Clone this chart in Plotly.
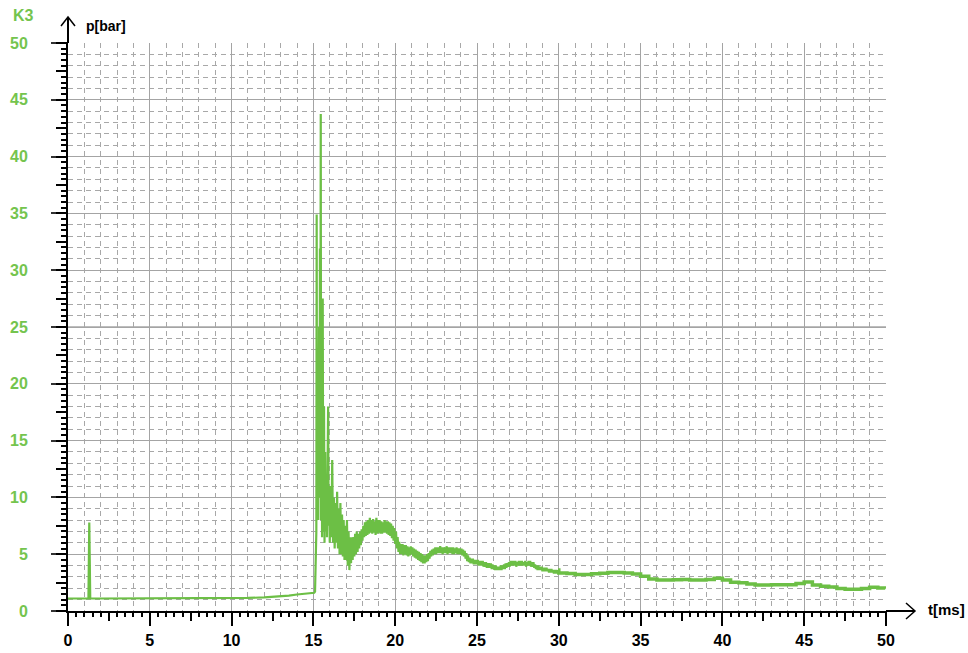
import plotly.graph_objects as go

# ---- data (time in ms, pressure in bar) ----
# quiet phase and first impulse peaks, point by point
t_start = [0, 0.5, 1.0, 1.25, 1.3, 1.32, 1.36, 2, 4, 6, 8, 10, 10.5, 11, 12, 12.8, 13.5, 14, 14.5, 14.9,
           15.05, 15.1, 15.15, 15.18, 15.2, 15.22, 15.26, 15.3, 15.35, 15.38, 15.4, 15.42, 15.45, 15.47,
           15.5, 15.53, 15.57, 15.6, 15.65, 15.68, 15.72, 15.75, 15.8, 15.83, 15.9, 15.93, 15.97]
p_start = [1.1, 1.1, 1.1, 1.1, 7.8, 1.8, 1.1, 1.1, 1.1, 1.1, 1.1, 1.1, 1.12, 1.15, 1.2, 1.25, 1.35, 1.45, 1.5, 1.55,
           1.6, 1.7, 5.6, 7.0, 34.9, 9.0, 20.0, 8.0, 25.0, 12.0, 31.9, 10.0, 43.75, 8.0,
           22.0, 6.5, 27.5, 7.0, 18.0, 6.0, 14.0, 7.0, 12.0, 6.5, 18.0, 7.5, 10.0]

# noisy phase 16.0 - 29.9 ms, read as min / max of the trace every 0.1 ms
t_band = [round(16.0 + 0.1 * i, 2) for i in range(140)]
p_band_lo = [6.0, 6.5, 6.0, 5.5, 6.0, 5.5, 5.0, 5.0, 4.8, 4.5, 4.5, 4.0, 3.6, 4.2, 4.5, 4.8, 5.0, 5.2, 5.5, 5.8,
             6.2, 6.5, 6.6, 6.7, 6.8, 6.9, 6.8, 6.9, 6.7, 6.8, 6.9, 6.8, 6.8, 6.9, 6.9, 6.8, 6.7, 6.6, 6.4, 6.2,
             5.9, 5.5, 5.2, 5.0, 5.0, 4.9, 5.0, 4.9, 4.8, 4.9, 5.0, 4.8, 4.7, 4.6, 4.5, 4.4, 4.3, 4.2, 4.2, 4.3,
             4.4, 4.6, 4.8, 4.9, 5.0, 5.0, 5.1, 5.1, 5.1, 5.0, 5.1, 5.1, 5.0, 5.1, 5.1, 5.0, 5.0, 5.1, 5.0, 5.0,
             5.0, 4.9, 4.8, 4.6, 4.4, 4.3, 4.2, 4.2, 4.1, 4.1, 4.1, 4.0, 4.0, 4.0, 3.9, 3.9, 3.8, 3.8, 3.8, 3.7,
             3.7, 3.6, 3.6, 3.6, 3.6, 3.6, 3.7, 3.7, 3.8, 3.9, 3.9, 4.0, 4.0, 4.0, 3.9, 4.0, 4.0, 4.0, 4.0, 4.0,
             3.9, 4.0, 4.0, 3.9, 3.9, 3.8, 3.7, 3.6, 3.6, 3.6, 3.5, 3.5, 3.5, 3.5, 3.4, 3.4, 3.4, 3.3, 3.3, 3.3]
p_band_hi = [11.0, 13.3, 10.0, 9.5, 10.5, 9.0, 9.5, 8.5, 8.0, 7.5, 8.0, 7.0, 6.5, 6.5, 6.5, 6.8, 7.0, 6.8, 7.0, 7.2,
             7.5, 7.8, 7.9, 8.0, 8.2, 8.0, 8.1, 7.9, 8.2, 8.0, 8.0, 7.9, 7.8, 8.0, 7.9, 7.9, 7.8, 7.7, 7.5, 7.3,
             7.0, 6.5, 6.1, 5.9, 5.9, 5.8, 5.8, 5.7, 5.6, 5.7, 5.6, 5.5, 5.4, 5.3, 5.2, 5.1, 5.0, 4.9, 4.9, 5.0,
             5.1, 5.3, 5.4, 5.5, 5.6, 5.6, 5.6, 5.7, 5.6, 5.6, 5.6, 5.7, 5.6, 5.6, 5.6, 5.6, 5.5, 5.6, 5.5, 5.5,
             5.5, 5.4, 5.3, 5.1, 4.9, 4.7, 4.6, 4.6, 4.5, 4.5, 4.5, 4.4, 4.4, 4.4, 4.3, 4.3, 4.2, 4.2, 4.2, 4.1,
             4.0, 4.0, 3.9, 3.9, 4.0, 4.0, 4.1, 4.2, 4.2, 4.3, 4.4, 4.4, 4.4, 4.4, 4.3, 4.4, 4.4, 4.4, 4.3, 4.4,
             4.3, 4.4, 4.4, 4.3, 4.3, 4.1, 4.0, 4.0, 3.9, 3.9, 3.8, 3.8, 3.8, 3.7, 3.7, 3.7, 3.6, 3.6, 3.6, 3.6]

# decay phase 30 - 50 ms, level of the (step-like) trace every 0.5 ms
t_tail = [round(30.0 + 0.5 * i, 2) for i in range(40)] + [49.95]
p_tail = [3.35, 3.3, 3.22, 3.22, 3.28, 3.32, 3.38, 3.38, 3.35, 3.25, 3.05, 2.82, 2.72, 2.72, 2.75, 2.78, 2.72, 2.72,
          2.78, 2.88, 2.72, 2.52, 2.48, 2.38, 2.28, 2.28, 2.32, 2.32, 2.32, 2.42, 2.55, 2.28, 2.18, 2.12, 1.98, 1.92,
          1.92, 1.98, 2.08, 2.02, 1.95]

x_ticks = [0, 5, 10, 15, 20, 25, 30, 35, 40, 45, 50]
y_ticks = [0, 5, 10, 15, 20, 25, 30, 35, 40, 45, 50]

# assemble the main trace (alternating min / max readings in the noisy phase)
t_ms, p_bar = list(t_start), list(p_start)
for t, lo, hi in zip(t_band, p_band_lo, p_band_hi):
    t_ms += [t, t + 0.05]
    p_bar += [lo, hi]

GREEN_LINE = "#6cbf45"
GREEN_TEXT = "#74c44e"
GRID_MAJOR = "#a4a4a4"
GRID_MINOR = "#a8a8a8"
FONT = "Liberation Sans"

fig = go.Figure()
fig.add_trace(go.Scatter(x=t_ms, y=p_bar, mode="lines",
                         line=dict(color=GREEN_LINE, width=2.2), hoverinfo="skip",
                         showlegend=False))
fig.add_trace(go.Scatter(x=[t_ms[-1]] + t_tail, y=[p_bar[-1]] + p_tail, mode="lines",
                         line=dict(color=GREEN_LINE, width=3.5, shape="hv"), hoverinfo="skip",
                         showlegend=False))
for ax in ("2", "3"):
    fig.add_trace(go.Scatter(x=[0], y=[0], xaxis="x" + ax, yaxis="y" + ax, mode="markers",
                             marker=dict(opacity=0), hoverinfo="skip", showlegend=False))

W, H = 968, 653
L, R, T, B = 68, 82, 43, 42

overlay = dict(showgrid=False, showticklabels=False, showline=False, zeroline=False,
               ticks="outside", tick0=0, tickwidth=2, tickcolor="black", automargin=False)

fig.update_layout(
    width=W, height=H, margin=dict(l=L, r=R, t=T, b=B, autoexpand=False),
    plot_bgcolor="white", paper_bgcolor="white",
    xaxis=dict(range=[0, 50], tickvals=x_ticks, ticktext=[str(v) for v in x_ticks],
               showgrid=True, gridcolor=GRID_MAJOR, gridwidth=1, automargin=False,
               showline=True, linecolor="black", linewidth=2,
               ticks="outside", ticklen=13, tickwidth=2, tickcolor="black",
               ticklabelstandoff=1,
               tickfont=dict(family=FONT, size=16, color="black", weight="bold"),
               zeroline=False,
               minor=dict(dtick=1, showgrid=True, gridcolor=GRID_MINOR, griddash="5px,4px",
                          gridwidth=1, ticks="", ticklen=0)),
    yaxis=dict(range=[0, 50], tickvals=y_ticks, ticktext=[str(v) for v in y_ticks],
               showgrid=True, gridcolor=GRID_MAJOR, gridwidth=1, automargin=False,
               showline=True, linecolor="black", linewidth=2,
               ticks="outside", ticklen=15, tickwidth=2, tickcolor="#333333",
               ticklabelstandoff=20,
               tickfont=dict(family=FONT, size=16, color=GREEN_TEXT, weight="bold"),
               zeroline=False,
               minor=dict(dtick=1, showgrid=True, gridcolor=GRID_MINOR, griddash="5px,4px",
                          gridwidth=1, ticks="", ticklen=0)),
    xaxis2=dict(overlaying="x", matches="x", anchor="y", side="bottom", dtick=0.5, ticklen=5, **overlay),
    yaxis2=dict(overlaying="y", matches="y", anchor="x", side="left", dtick=0.5, ticklen=6, **overlay),
    xaxis3=dict(overlaying="x", matches="x", anchor="y", side="bottom", dtick=2.5, ticklen=9, **overlay),
    yaxis3=dict(overlaying="y", matches="y", anchor="x", side="left", dtick=2.5, ticklen=11, **overlay),
)

# darker reference line at 25 bar
fig.add_shape(type="line", xref="x", yref="y", x0=0, x1=50, y0=25, y1=25,
              line=dict(color="#7a7a7a", width=1), layer="below")

# axis extensions with open arrow heads (paper coordinates from pixel positions)
pw, ph = W - L - R, H - T - B
def px(x):
    return (x - L) / pw
def py(y):
    return (H - B - y) / ph

axis_line = dict(color="black", width=2)
fig.add_shape(type="line", xref="paper", yref="paper", x0=px(68), x1=px(68), y0=py(43), y1=py(17), line=axis_line)
fig.add_shape(type="path", xref="paper", yref="paper",
              path=f"M {px(61)},{py(26)} L {px(68)},{py(17)} L {px(75)},{py(26)}", line=dict(color="black", width=1.5))
fig.add_shape(type="line", xref="paper", yref="paper", x0=px(886), x1=px(915), y0=py(611), y1=py(611), line=axis_line)
fig.add_shape(type="path", xref="paper", yref="paper",
              path=f"M {px(906)},{py(603)} L {px(915)},{py(611)} L {px(906)},{py(619)}", line=dict(color="black", width=1.5))

fig.add_annotation(xref="paper", yref="paper", x=px(11), y=py(16), xanchor="left", yanchor="middle",
                   text="K3", showarrow=False, font=dict(family=FONT, size=16, color=GREEN_TEXT, weight="bold"))
fig.add_annotation(xref="paper", yref="paper", x=px(84), y=py(26), xanchor="left", yanchor="middle",
                   text="p[bar]", showarrow=False, font=dict(family=FONT, size=14, color="black", weight="bold"))
fig.add_annotation(xref="paper", yref="paper", x=px(926), y=py(609), xanchor="left", yanchor="middle",
                   text="t[ms]", showarrow=False, font=dict(family=FONT, size=15, color="black", weight="bold"))

fig.write_html("out.html")
